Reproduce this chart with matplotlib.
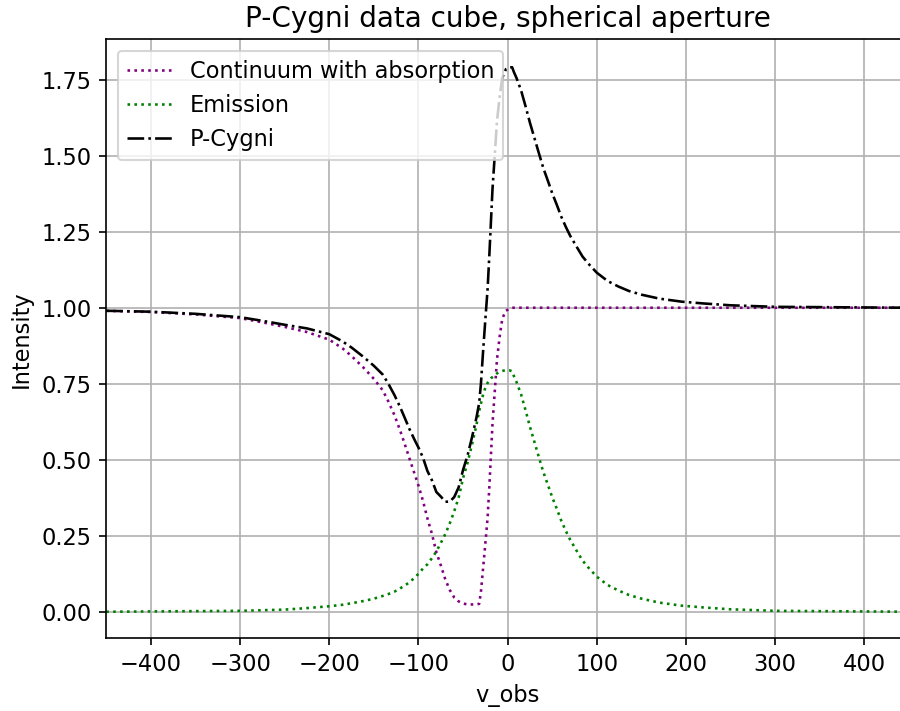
import numpy as np
import matplotlib
matplotlib.use("Agg")
import matplotlib.pyplot as plt

# Observed velocity samples
v_obs = [-450, -400, -350, -300, -275, -250, -225, -200, -185, -175, -162,
         -150, -140, -134, -127, -121, -115, -110, -104, -100, -95, -90,
         -85, -80, -75, -70, -65, -60, -55, -50, -45, -40, -35, -32, -30,
         -27.5, -25, -22.5, -20.5, -18.7, -17, -14, -12, -9, -6, -2, 2, 5,
         7, 10, 15, 20, 25, 30, 35, 40, 45, 50, 55, 60, 65, 70, 77, 84, 92,
         100, 112, 124, 136, 150, 170, 195, 220, 250, 300, 350, 400, 450]

# Continuum with the blue-shifted absorption trough
continuum_abs = [0.990, 0.986, 0.978, 0.966, 0.952, 0.937, 0.920, 0.895, 0.866,
                 0.841, 0.804, 0.766, 0.728, 0.693, 0.647, 0.600, 0.548, 0.503,
                 0.450, 0.415, 0.365, 0.307, 0.257, 0.196, 0.153, 0.107, 0.072,
                 0.047, 0.034, 0.027, 0.024, 0.024, 0.024, 0.026, 0.065, 0.145,
                 0.226, 0.310, 0.415, 0.520, 0.620, 0.745, 0.830, 0.905, 0.965,
                 0.990, 0.997, 1.000, 1.000, 1.000, 1.000, 1.000, 1.000, 1.000,
                 1.000, 1.000, 1.000, 1.000, 1.000, 1.000, 1.000, 1.000, 1.000,
                 1.000, 1.000, 1.000, 1.000, 1.000, 1.000, 1.000, 1.000, 1.000,
                 1.000, 1.000, 1.000, 1.000, 1.000, 1.000]

# Emission component
emission = [0.000, 0.001, 0.002, 0.003, 0.005, 0.007, 0.012, 0.018, 0.023,
            0.028, 0.035, 0.043, 0.052, 0.058, 0.066, 0.076, 0.087, 0.097,
            0.113, 0.125, 0.142, 0.156, 0.176, 0.198, 0.226, 0.255, 0.290,
            0.330, 0.375, 0.440, 0.490, 0.550, 0.615, 0.660, 0.685, 0.715,
            0.737, 0.753, 0.762, 0.768, 0.772, 0.779, 0.784, 0.789, 0.792,
            0.795, 0.794, 0.791, 0.775, 0.755, 0.715, 0.663, 0.608, 0.558,
            0.508, 0.459, 0.418, 0.376, 0.339, 0.300, 0.267, 0.237, 0.202,
            0.168, 0.140, 0.115, 0.088, 0.070, 0.055, 0.043, 0.030, 0.020,
            0.014, 0.008, 0.003, 0.002, 0.001, 0.000]

v = np.array(v_obs)
cont = np.array(continuum_abs)
emis = np.array(emission)
p_cygni = cont + emis  # full profile: absorbed continuum plus emission

plt.rcParams["font.size"] = 10.8

fig = plt.figure(figsize=(6, 4.74), dpi=150)
ax = fig.add_axes([0.1181, 0.1022, 0.892, 0.8425])

lw = 1.25
ax.plot(v, cont, color="purple", linestyle=":", lw=lw, label="Continuum with absorption")
ax.plot(v, emis, color="green", linestyle=":", lw=lw, label="Emission")
ax.plot(v, p_cygni, color="k", linestyle="-.", lw=lw, label="P-Cygni")

ax.set_xlim(-450, 450)
ax.set_ylim(-0.0875, 1.883)
ax.set_xticks([-400, -300, -200, -100, 0, 100, 200, 300, 400])
ax.set_yticks([0.0, 0.25, 0.5, 0.75, 1.0, 1.25, 1.5, 1.75])
ax.grid(True)

ax.set_title("P-Cygni data cube, spherical aperture", fontsize=13.4)
ax.set_xlabel("v_obs")
ax.set_ylabel("Intensity")
ax.legend(loc="upper left")

fig.savefig("out.png", dpi=150)
